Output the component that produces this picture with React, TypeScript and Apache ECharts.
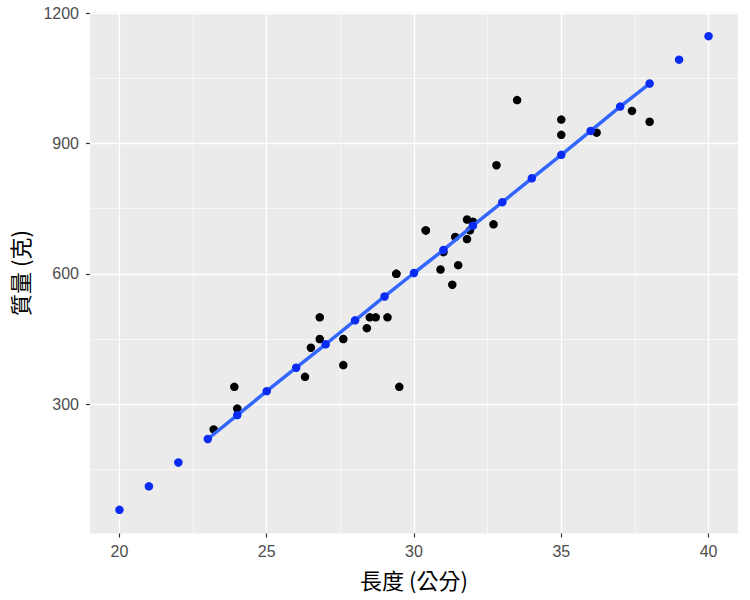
import { useEffect, useRef } from "react";
import * as echarts from "echarts";

// 鯛魚 (bream) observations: length (cm) and weight (g)
const lengths = [
  23.2, 24.0, 23.9, 26.3, 26.5, 26.8, 26.8, 27.6, 27.6, 28.5, 28.4, 28.7, 29.1, 29.5, 29.4, 29.4,
  30.4, 30.4, 30.9, 31.0, 31.3, 31.4, 31.5, 31.8, 31.9, 31.8, 32.0, 32.7, 32.8, 33.5, 35.0, 35.0,
  36.2, 37.4, 38.0,
];
const weights = [
  242, 290, 340, 363, 430, 450, 500, 390, 450, 500, 475, 500, 500, 340, 600, 600, 700, 700, 610,
  650, 575, 685, 620, 680, 700, 725, 720, 714, 850, 1000, 920, 955, 925, 975, 950,
];

// predicted weights at integer lengths 20..40
const predLengths = [20, 21, 22, 23, 24, 25, 26, 27, 28, 29, 30, 31, 32, 33, 34, 35, 36, 37, 38, 39, 40];
const predWeights = [
  57, 111, 166, 220, 275, 330, 384, 438, 493, 548, 602, 655, 711, 765, 820, 874, 929, 985, 1038,
  1093, 1147,
];

const xTicks = [20, 25, 30, 35, 40];
const xMinor = [22.5, 27.5, 32.5, 37.5];
const yTicks = [300, 600, 900, 1200];
const yMinor = [150, 450, 750, 1050];

const LATIN = "'Liberation Sans', Arial, sans-serif";
const CJK = "'Noto Sans CJK TC', 'Liberation Sans', sans-serif";

const App = () => {
  const chartRef = useRef<HTMLDivElement>(null);

  useEffect(() => {
    if (!chartRef.current) return;
    document.body.style.margin = "0";

    const chart = echarts.init(chartRef.current, null, { renderer: "svg" });

    const hidden = {
      axisLine: { show: false },
      axisTick: { show: false },
      axisLabel: { show: false },
    };

    const option = {
      animation: false,
      backgroundColor: "#ffffff",
      grid: {
        left: 89,
        right: 12,
        top: 12.5,
        bottom: 66.5,
        show: true,
        backgroundColor: "#ebebeb",
        borderWidth: 0,
      },
      xAxis: [
        {
          type: "value",
          min: 19,
          max: 41,
          axisLine: { show: false },
          axisTick: { customValues: xTicks, length: 4, lineStyle: { color: "#333333", width: 1.2 } },
          axisLabel: {
            customValues: xTicks,
            formatter: (v: number) => String(v),
            color: "#4d4d4d",
            fontSize: 16,
            fontFamily: LATIN,
            margin: 10,
          },
          splitLine: { show: true, lineStyle: { color: "#ffffff", width: 1.3 } },
          name: "長度 (公分)",
          nameLocation: "middle",
          nameGap: 34,
          nameTextStyle: { color: "#000000", fontSize: 22, fontFamily: CJK },
        },
        {
          type: "value",
          min: 19,
          max: 41,
          ...hidden,
          axisTick: { show: false, customValues: xMinor },
          splitLine: { show: true, lineStyle: { color: "#ffffff", width: 0.6 } },
        },
      ],
      yAxis: [
        {
          type: "value",
          min: 2.5,
          max: 1201.5,
          axisLine: { show: false },
          axisTick: { customValues: yTicks, length: 4, lineStyle: { color: "#333333", width: 1.2 } },
          axisLabel: {
            customValues: yTicks,
            formatter: (v: number) => String(v),
            color: "#4d4d4d",
            fontSize: 16,
            fontFamily: LATIN,
            margin: 11,
          },
          splitLine: { show: true, lineStyle: { color: "#ffffff", width: 1.3 } },
          name: "質量 (克)",
          nameLocation: "middle",
          nameRotate: 90,
          nameGap: 60,
          nameTextStyle: { color: "#000000", fontSize: 22, fontFamily: CJK },
        },
        {
          type: "value",
          min: 2.5,
          max: 1201.5,
          ...hidden,
          axisTick: { show: false, customValues: yMinor },
          splitLine: { show: true, lineStyle: { color: "#ffffff", width: 0.6 } },
        },
      ],
      series: [
        {
          type: "scatter",
          data: lengths.map((l, i) => [l, weights[i]]),
          symbolSize: 8.5,
          itemStyle: { color: "#000000", opacity: 1 },
          z: 2,
        },
        {
          type: "line",
          data: predLengths
            .map((l, i) => [l, predWeights[i]])
            .filter((d) => d[0] >= 23 && d[0] <= 38),
          showSymbol: false,
          symbol: "none",
          lineStyle: { color: "#3366ff", width: 3.5 },
          z: 3,
        },
        {
          type: "scatter",
          data: predLengths.map((l, i) => [l, predWeights[i]]),
          symbolSize: 8.5,
          itemStyle: { color: "#0a2cf2", opacity: 1 },
          z: 4,
        },
      ],
    };

    chart.setOption(option);

    const handleResize = () => chart.resize();
    window.addEventListener("resize", handleResize);

    return () => {
      window.removeEventListener("resize", handleResize);
      chart.dispose();
    };
  }, []);

  return <div ref={chartRef} style={{ width: "750px", height: "600px" }} />;
};

export default App;
